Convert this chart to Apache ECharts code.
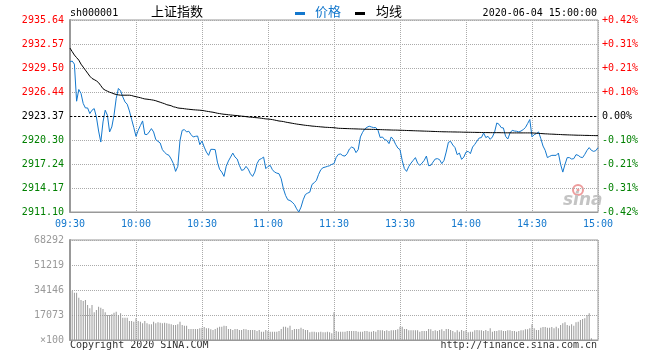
<!DOCTYPE html>
<html><head><meta charset="utf-8">
<script src="https://cdn.jsdelivr.net/npm/echarts@6/dist/echarts.min.js"></script>
<style>html,body{margin:0;padding:0;background:#fff}#c{width:660px;height:360px}</style>
</head><body><div id="c"></div>
<script>
// ---- data ----
var timeTicks = ['09:30','10:00','10:30','11:00','11:30','13:30','14:00','14:30','15:00'];
var priceTicks = ['2935.64','2932.57','2929.50','2926.44','2923.37','2920.30','2917.24','2914.17','2911.10'];
var pctTicks = ['+0.42%','+0.31%','+0.21%','+0.10%','0.00%','-0.10%','-0.21%','-0.31%','-0.42%'];
var volTicks = ['×100','17073','34146','51219','68292'];
var prevClose = 2923.37;
var priceMax = 2935.64, priceMin = 2911.10;
var volMax = 68292, volStep = 17073;

var price = [
2930.30,2930.39,2930.00,2925.26,2926.76,2926.25,2924.97,2924.40,2924.40,2923.68,
2924.11,2924.32,2923.25,2921.45,2920.04,2922.61,2924.11,2923.47,2921.33,2921.97,
2923.47,2925.61,2926.89,2926.58,2925.81,2925.17,2924.88,2924.02,2922.95,2921.89,
2920.77,2921.54,2922.15,2922.74,2921.03,2920.99,2921.33,2921.76,2921.33,2920.35,
2920.13,2919.92,2919.07,2918.72,2918.47,2918.34,2917.87,2917.28,2916.29,2916.93,
2920.26,2921.54,2921.63,2921.33,2921.42,2920.99,2920.69,2920.77,2920.81,2919.71,
2920.17,2919.40,2918.76,2918.34,2919.11,2919.11,2919.07,2917.48,2916.55,2916.20,
2915.65,2916.93,2917.61,2918.12,2918.63,2918.12,2917.87,2917.06,2916.42,2916.51,
2916.93,2916.58,2915.99,2915.65,2916.20,2917.28,2917.79,2917.92,2918.12,2916.64,
2916.93,2917.06,2916.51,2916.20,2916.07,2915.99,2915.35,2914.07,2913.21,2912.66,
2912.57,2912.36,2912.06,2911.51,2911.10,2911.72,2912.66,2913.34,2913.51,2913.64,
2914.62,2914.84,2915.14,2915.91,2916.51,2916.76,2916.84,2916.93,2917.02,2917.19,
2917.28,2918.08,2918.47,2918.51,2918.30,2918.25,2918.56,2919.15,2919.40,2919.28,
2918.69,2919.07,2920.69,2921.29,2921.71,2921.93,2922.06,2921.97,2921.89,2921.89,
2921.54,2920.61,2920.69,2920.35,2920.26,2919.84,2920.69,2920.35,2919.75,2919.28,
2919.07,2917.70,2916.64,2916.29,2916.93,2917.35,2917.70,2918.05,2917.35,2917.06,
2917.35,2917.70,2918.25,2917.02,2917.06,2917.48,2917.87,2917.92,2917.79,2917.28,
2917.70,2918.76,2920.01,2920.13,2919.66,2919.33,2918.43,2918.63,2917.83,2918.12,
2918.76,2918.85,2918.56,2919.40,2919.75,2920.17,2920.56,2920.61,2921.20,2920.61,
2920.77,2920.39,2920.69,2921.33,2922.48,2922.31,2921.89,2921.84,2920.77,2920.43,
2921.20,2921.54,2921.45,2921.42,2921.33,2921.45,2921.63,2921.89,2922.40,2922.92,
2920.69,2920.99,2921.12,2921.33,2920.48,2919.53,2918.98,2918.05,2918.21,2918.34,
2918.34,2918.34,2918.63,2917.19,2916.20,2917.19,2918.05,2918.05,2917.87,2917.92,
2918.43,2918.34,2918.12,2918.05,2918.47,2918.98,2919.33,2918.98,2918.85,2918.94,
2919.33
];

var avgLine = [
2932.05,2931.60,2931.16,2930.83,2930.51,2930.00,2929.62,2929.23,2928.85,2928.46,
2928.17,2928.02,2927.86,2927.63,2927.25,2926.86,2926.67,2926.54,2926.41,2926.32,
2926.20,2926.12,2926.07,2926.03,2926.03,2926.03,2926.03,2926.03,2925.99,2925.90,
2925.84,2925.77,2925.71,2925.62,2925.55,2925.52,2925.48,2925.44,2925.39,2925.32,
2925.22,2925.13,2925.03,2924.94,2924.81,2924.75,2924.68,2924.55,2924.49,2924.40,
2924.36,2924.34,2924.30,2924.26,2924.23,2924.20,2924.17,2924.15,2924.13,2924.11,
2924.08,2924.04,2923.98,2923.94,2923.89,2923.85,2923.79,2923.72,2923.68,2923.63,
2923.59,2923.57,2923.53,2923.50,2923.47,2923.44,2923.43,2923.39,2923.35,2923.33,
2923.29,2923.25,2923.22,2923.20,2923.17,2923.15,2923.12,2923.08,2923.04,2923.00,
2922.98,2922.95,2922.91,2922.85,2922.79,2922.73,2922.70,2922.66,2922.59,2922.54,
2922.49,2922.44,2922.39,2922.34,2922.30,2922.26,2922.22,2922.18,2922.15,2922.12,
2922.08,2922.06,2922.03,2922.01,2921.98,2921.96,2921.93,2921.92,2921.90,2921.89,
2921.87,2921.84,2921.80,2921.79,2921.78,2921.77,2921.76,2921.75,2921.74,2921.73,
2921.72,2921.71,2921.70,2921.69,2921.68,2921.68,2921.67,2921.66,2921.66,2921.65,
2921.64,2921.63,2921.62,2921.61,2921.60,2921.59,2921.58,2921.57,2921.57,2921.56,
2921.55,2921.54,2921.53,2921.52,2921.51,2921.50,2921.49,2921.48,2921.47,2921.46,
2921.45,2921.44,2921.43,2921.42,2921.41,2921.40,2921.39,2921.38,2921.37,2921.36,
2921.35,2921.35,2921.34,2921.34,2921.33,2921.33,2921.32,2921.32,2921.31,2921.30,
2921.30,2921.29,2921.29,2921.28,2921.28,2921.27,2921.27,2921.26,2921.26,2921.25,
2921.25,2921.24,2921.24,2921.24,2921.24,2921.24,2921.23,2921.23,2921.22,2921.22,
2921.22,2921.21,2921.21,2921.21,2921.21,2921.21,2921.21,2921.21,2921.21,2921.21,
2921.20,2921.19,2921.17,2921.15,2921.13,2921.11,2921.09,2921.08,2921.06,2921.05,
2921.04,2921.02,2921.01,2921.00,2920.98,2920.97,2920.96,2920.95,2920.94,2920.93,
2920.92,2920.91,2920.91,2920.90,2920.89,2920.89,2920.88,2920.87,2920.87,2920.86,
2920.86
];

var volume = [
33668,33668,32302,32302,28887,27317,26634,27317,23902,21649,
23902,18917,20488,22741,22058,21170,18917,17073,17073,17551,
18644,19327,17073,18234,15229,15229,15229,12975,12975,12497,
14819,12975,12497,11405,12975,11405,10722,10722,12497,11405,
12088,11815,11405,11815,11405,11132,10722,10244,10244,10722,
12497,10244,9766,9766,7512,7512,7512,7512,7512,7990,
8400,8878,7990,7990,7307,6829,7512,8400,9083,9083,
9766,9561,7512,7512,6829,7512,7512,6829,6829,7512,
7307,6829,6829,6829,6829,6146,6829,5668,5668,6829,
6146,5668,5668,5668,5668,6146,7512,9083,9083,8400,
9766,6829,7512,7512,7512,8400,7512,6829,6829,5258,
5668,5668,5258,5258,5668,5258,5258,5668,5258,4576,
18917,6146,5668,5668,5668,5668,6146,6146,6146,6146,
6146,5668,5668,5668,6146,6146,5668,5668,6146,5668,
6829,6624,6624,6146,6624,6146,6624,6624,6829,7307,
9083,9083,7512,7512,6624,6624,6624,6624,6624,5668,
6146,6146,6146,7512,7307,6146,6624,6146,6829,7307,
6146,7512,7512,6829,6146,5258,6624,5668,6829,6146,
6624,5258,5668,5668,6624,6829,6624,6624,6146,6829,
6146,7990,5668,6146,6146,6624,6624,6146,6146,6624,
6624,6146,6146,5668,6146,6624,6624,7307,7307,7990,
10722,7990,6829,6829,8400,8878,8878,8400,8400,8878,
7990,9083,7990,10244,11405,12088,10244,9766,10722,9766,
12088,12497,13658,14341,14819,17073,18234,1161,0,0,
0
];

// minute categories: 09:30-11:30, 13:01-15:00
var times = [];
function pad(n){return (n<10?'0':'')+n;}
for (var m = 9*60+30; m <= 11*60+30; m++) times.push(pad(Math.floor(m/60))+':'+pad(m%60));
for (var m2 = 13*60+1; m2 <= 15*60; m2++) times.push(pad(Math.floor(m2/60))+':'+pad(m2%60));

// ---- chart ----
var BLUE = '#1478cd', GRID = '#aaaaaa', BORDER = '#999';
var MONO = 'DejaVu Sans Mono';
var CJK = 'Noto Sans CJK SC';
var dotted = {color: GRID, type: [1, 1], width: 1};

function tickColor(i){ return i < 4 ? '#ff0000' : (i === 4 ? '#000000' : '#008000'); }

var chart = echarts.init(document.getElementById('c'), null, {renderer: 'canvas'});
chart.setOption({
  animation: false,
  backgroundColor: '#fff',
  grid: [
    {left: 70, top: 20, width: 528, height: 192, show: true, borderColor: BORDER, borderWidth: 1},
    {left: 70, top: 240, width: 528, height: 100, show: true, borderColor: BORDER, borderWidth: 1}
  ],
  xAxis: [
    {type: 'category', gridIndex: 0, data: times, boundaryGap: false,
     axisLine: {show: true, lineStyle: {color: BORDER, width: 1}},
     axisTick: {show: false},
     axisLabel: {interval: 29, color: BLUE, fontFamily: MONO, fontSize: 10, margin: 7},
     splitLine: {show: true, interval: 29, lineStyle: dotted}},
    {type: 'category', gridIndex: 1, data: times, boundaryGap: false,
     axisLine: {show: true, lineStyle: {color: BORDER, width: 1}},
     axisTick: {show: false}, axisLabel: {show: false},
     splitLine: {show: true, interval: 29, lineStyle: dotted}}
  ],
  yAxis: [
    {type: 'value', gridIndex: 0, min: 0, max: 8, interval: 1, position: 'left',
     axisLine: {show: true, lineStyle: {color: BORDER, width: 2}},
     axisTick: {show: false},
     axisLabel: {fontFamily: MONO, fontSize: 10, margin: 6,
       formatter: function(v){ return priceTicks[8 - v]; },
       color: function(v){ return tickColor(8 - v); }},
     splitLine: {show: true, lineStyle: dotted}},
    {type: 'value', gridIndex: 0, min: 0, max: 8, interval: 1, position: 'right',
     axisLine: {show: false}, axisTick: {show: false},
     axisLabel: {fontFamily: MONO, fontSize: 10, margin: 4,
       formatter: function(v){ return pctTicks[8 - v]; },
       color: function(v){ return tickColor(8 - v); }},
     splitLine: {show: false}},
    {type: 'value', gridIndex: 0, min: priceMin, max: priceMax, show: false,
     splitLine: {show: false}},
    {type: 'value', gridIndex: 1, min: 0, max: volMax, interval: volStep, position: 'left',
     axisLine: {show: true, lineStyle: {color: BORDER, width: 2}},
     axisTick: {show: false},
     axisLabel: {fontFamily: MONO, fontSize: 10, margin: 6, color: '#999',
       formatter: function(v){ return volTicks[Math.round(v / volStep)]; }},
     splitLine: {show: true, lineStyle: dotted}}
  ],
  series: [
    {name: '价格', type: 'line', xAxisIndex: 0, yAxisIndex: 2, data: price,
     showSymbol: false, lineStyle: {color: BLUE, width: 1}, itemStyle: {color: BLUE},
     markLine: {silent: true, symbol: 'none', label: {show: false},
       lineStyle: {color: '#000', type: [2, 2], width: 1},
       data: [{yAxis: prevClose}]}},
    {name: '均线', type: 'line', xAxisIndex: 0, yAxisIndex: 2, data: avgLine,
     showSymbol: false, lineStyle: {color: '#000', width: 1}, itemStyle: {color: '#000'}},
    {name: '成交量', type: 'bar', xAxisIndex: 1, yAxisIndex: 3, data: volume,
     barWidth: 1, itemStyle: {color: '#999'}}
  ],
  graphic: [
    {type: 'text', left: 70, top: 8, style: {text: 'sh000001', fill: '#000', font: '10px "' + MONO + '"'}},
    {type: 'text', left: 151, top: 5, style: {text: '上证指数', fill: '#000', font: '13px "' + CJK + '"'}},
    {type: 'rect', shape: {x: 295, y: 12, width: 10, height: 3}, style: {fill: BLUE}},
    {type: 'text', left: 315, top: 5, style: {text: '价格', fill: BLUE, font: '13px "' + CJK + '"'}},
    {type: 'rect', shape: {x: 355, y: 12, width: 10, height: 3}, style: {fill: '#000'}},
    {type: 'text', left: 376, top: 5, style: {text: '均线', fill: '#000', font: '13px "' + CJK + '"'}},
    {type: 'text', right: 63, top: 8, style: {text: '2020-06-04 15:00:00', fill: '#000', font: '10px "' + MONO + '"'}},
    {type: 'text', left: 70, top: 340, style: {text: 'Copyright 2020 SINA.COM', fill: '#333', font: '10px "' + MONO + '"'}},
    {type: 'text', right: 63, top: 340, style: {text: 'http://finance.sina.com.cn', fill: '#333', font: '10px "' + MONO + '"'}},
    {type: 'circle', shape: {cx: 578, cy: 190, r: 5}, style: {fill: 'none', stroke: '#ee9c9c', lineWidth: 2}},
    {type: 'circle', shape: {cx: 578, cy: 190, r: 1.5}, style: {fill: '#ee9c9c'}},
    {type: 'text', left: 563, top: 192, style: {text: 'sina', fill: '#c4c4c4', font: 'italic bold 17px "DejaVu Sans"'}}
  ]
});
</script>
</body></html>
